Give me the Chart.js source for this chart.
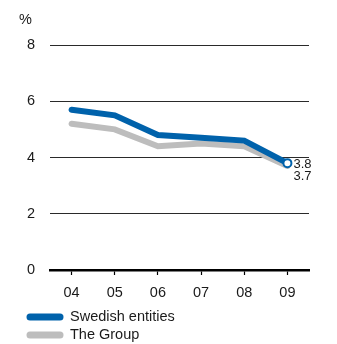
<!DOCTYPE html>
<html>
<head>
<meta charset="utf-8">
<script src="https://cdn.jsdelivr.net/npm/chart.js@4"></script>
<style>
html,body{margin:0;padding:0;background:#fff;}
#wrap{width:337px;height:344px;position:relative;}
</style>
</head>
<body>
<div id="wrap"><canvas id="c" width="337" height="344"></canvas></div>
<script>
const categories = ["04", "05", "06", "07", "08", "09"];
const swedishEntities = [5.7, 5.5, 4.8, 4.7, 4.6, 3.8];
const theGroup = [5.2, 5.0, 4.4, 4.5, 4.4, 3.7];
const yTicks = [0, 2, 4, 6, 8];
const seriesLabels = ["Swedish entities", "The Group"];
const endLabels = ["3.8", "3.7"];
const unitLabel = "%";

const BLUE = "#0062ab";
const GREY = "#bdbdbd";
const FONT = "'Liberation Sans', Arial, Helvetica, sans-serif";
const TXT = "#1a1a1a";

const overlay = {
  id: "overlay",
  afterDraw(chart) {
    const ctx = chart.ctx;
    const xs = chart.scales.x, ys = chart.scales.y;
    ctx.save();
    ctx.fillStyle = TXT;
    // unit label
    ctx.font = "14.5px " + FONT;
    ctx.textAlign = "left";
    ctx.textBaseline = "middle";
    ctx.fillText(unitLabel, 19, 20);
    // end labels
    const last = categories.length - 1;
    const px = xs.getPixelForValue(last) + 6;
    const py = ys.getPixelForValue(swedishEntities[last]);
    ctx.font = "13px " + FONT;
    ctx.fillText(endLabels[0], px, py + 1);
    ctx.fillText(endLabels[1], px, py + 13);
    // legend
    const colors = [BLUE, GREY];
    const rows = [317, 335];
    ctx.font = "14.5px " + FONT;
    ctx.lineCap = "round";
    for (let i = 0; i < seriesLabels.length; i++) {
      ctx.strokeStyle = colors[i];
      ctx.lineWidth = 7;
      ctx.beginPath();
      ctx.moveTo(30, rows[i]);
      ctx.lineTo(60, rows[i]);
      ctx.stroke();
      ctx.fillStyle = TXT;
      ctx.fillText(seriesLabels[i], 70, rows[i]);
    }
    ctx.restore();
  }
};

new Chart(document.getElementById("c"), {
  type: "line",
  data: {
    labels: categories,
    datasets: [
      {
        label: seriesLabels[1],
        data: theGroup,
        borderColor: GREY,
        borderWidth: 6,
        borderCapStyle: "round",
        borderJoinStyle: "miter",
        pointRadius: 0,
        tension: 0,
        order: 2
      },
      {
        label: seriesLabels[0],
        data: swedishEntities,
        borderColor: BLUE,
        borderWidth: 6,
        borderCapStyle: "round",
        borderJoinStyle: "miter",
        pointRadius: [0, 0, 0, 0, 0, 4],
        pointBackgroundColor: "#ffffff",
        pointBorderColor: BLUE,
        pointBorderWidth: 2,
        tension: 0,
        order: 1
      }
    ]
  },
  options: {
    responsive: false,
    animation: false,
    devicePixelRatio: 1,
    layout: { padding: { left: 0, right: 28, top: 45, bottom: 44 } },
    plugins: { legend: { display: false }, tooltip: { enabled: false } },
    scales: {
      x: {
        offset: true,
        afterFit(s) { s.height = 30; },
        grid: {
          offset: false,
          drawOnChartArea: false,
          drawTicks: true,
          tickLength: 5,
          tickWidth: 1.2,
          tickColor: "#000"
        },
        border: { display: true, color: "#000", width: 2.5 },
        ticks: {
          color: TXT,
          font: { family: FONT, size: 14.5 },
          padding: 9,
          maxRotation: 0
        }
      },
      y: {
        min: 0,
        max: 8,
        afterFit(s) { s.width = 50; },
        afterBuildTicks(s) { s.ticks = yTicks.map(v => ({ value: v })); },
        grid: {
          color: "#2a2a2a",
          lineWidth: 1,
          drawTicks: false
        },
        border: { display: false },
        ticks: {
          color: TXT,
          font: { family: FONT, size: 14.5 },
          padding: 15
        }
      }
    }
  },
  plugins: [overlay]
});
</script>
</body>
</html>
